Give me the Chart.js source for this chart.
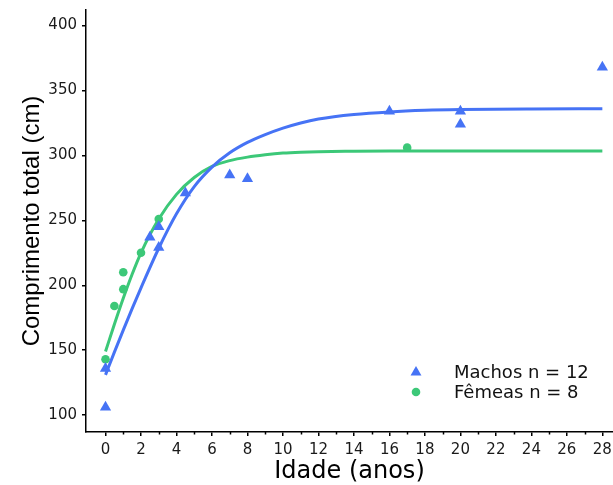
<!DOCTYPE html>
<html>
<head>
<meta charset="utf-8">
<script src="https://cdn.jsdelivr.net/npm/chart.js@4.4.0/dist/chart.umd.min.js"></script>
<style>
  html, body { margin: 0; padding: 0; background: #fff; }
  canvas { display: block; }
</style>
</head>
<body>
<canvas id="growthChart" width="613" height="485"></canvas>
<script>
// observed lengths
const maleAge = [0, 0, 2.5, 3, 3, 4.5, 7, 8, 16, 20, 20, 28];
const maleLength = [106, 136, 237, 245, 229, 271, 285, 282, 334, 334, 324, 368];
const femaleAge = [0, 0.5, 1, 1, 2, 3, 17];
const femaleLength = [143, 184, 197, 210, 225, 251, 306];

// fitted growth curves
const curveAge = [0, 0.5, 1, 1.5, 2, 3, 4, 5, 6, 7, 8, 9, 10, 11, 12, 14, 16, 18, 20, 24, 28];
const maleCurve = [131, 148.5, 165.5, 182, 198, 228.5, 255, 276, 291, 302, 310, 316, 321, 325, 328, 331.5, 333.5, 334.7, 335.3, 335.8, 336];
const femaleCurve = [149, 170, 190, 208.5, 225, 251, 270, 283, 291.5, 296, 298.7, 300.5, 301.8, 302.5, 302.9, 303.2, 303.4, 303.5, 303.5, 303.5, 303.5];

// axes
const xTicks = [0, 2, 4, 6, 8, 10, 12, 14, 16, 18, 20, 22, 24, 26, 28];
const xMinorTicks = [1, 3, 5, 7, 9, 11, 13, 15, 17, 19, 21, 23, 25, 27];
const yTicks = [100, 150, 200, 250, 300, 350, 400];
const legendLabels = ["Machos n = 12", "Fêmeas n = 8"];

const blue = "#4673f5";
const green = "#3cc878";

function toPoints(xs, ys) {
    return xs.map((x, i) => ({ x: x, y: ys[i] }));
}

const extras = {
    id: "extras",
    afterDraw(chart) {
        const ctx = chart.ctx;
        const xs = chart.scales.x;
        const bottom = chart.chartArea.bottom;
        ctx.save();
        ctx.strokeStyle = "#000";
        ctx.lineWidth = 1.5;
        xMinorTicks.forEach(v => {
            const px = Math.round(xs.getPixelForValue(v)) + 0.5;
            ctx.beginPath();
            ctx.moveTo(px, bottom);
            ctx.lineTo(px, bottom + 2.5);
            ctx.stroke();
        });

        // legend
        const marks = [
            { style: "triangle", r: 6.3, color: blue, y: 372.3 },
            { style: "circle", r: 4.3, color: green, y: 392 }
        ];
        ctx.font = "18px 'DejaVu Sans'";
        ctx.textBaseline = "middle";
        ctx.textAlign = "left";
        marks.forEach((m, i) => {
            ctx.fillStyle = m.color;
            Chart.helpers.drawPoint(ctx, { pointStyle: m.style, radius: m.r, borderWidth: 0, rotation: 0 }, 416, m.y);
            ctx.fillStyle = "#111";
            ctx.fillText(legendLabels[i], 454, i === 0 ? 373 : 393);
        });
        ctx.restore();
    }
};

const ctx = document.getElementById("growthChart").getContext("2d");
new Chart(ctx, {
    type: "scatter",
    data: {
        datasets: [
            {
                label: legendLabels[0],
                data: toPoints(maleAge, maleLength),
                pointStyle: "triangle",
                pointRadius: 6.5,
                backgroundColor: blue,
                borderWidth: 0,
                order: 1
            },
            {
                label: legendLabels[1],
                data: toPoints(femaleAge, femaleLength),
                pointStyle: "circle",
                pointRadius: 4.3,
                backgroundColor: green,
                borderWidth: 0,
                order: 2
            },
            {
                label: "ajuste machos",
                data: toPoints(curveAge, maleCurve),
                showLine: true,
                borderColor: blue,
                borderWidth: 3,
                pointRadius: 0,
                cubicInterpolationMode: "monotone",
                order: 3
            },
            {
                label: "ajuste fêmeas",
                data: toPoints(curveAge, femaleCurve),
                showLine: true,
                borderColor: green,
                borderWidth: 3,
                pointRadius: 0,
                cubicInterpolationMode: "monotone",
                order: 4
            }
        ]
    },
    options: {
        responsive: false,
        animation: false,
        layout: { autoPadding: false, padding: { top: 10, left: 0, right: 0, bottom: 0 } },
        plugins: {
            legend: { display: false },
            tooltip: { enabled: false }
        },
        scales: {
            x: {
                type: "linear",
                position: "bottom",
                min: -1.1,
                max: 28.6,
                afterBuildTicks: s => { s.ticks = xTicks.map(v => ({ value: v })); },
                afterFit: s => { s.height = 53; s.paddingLeft = 0; s.paddingRight = 0; },
                ticks: {
                    autoSkip: false,
                    maxRotation: 0,
                    padding: 5,
                    color: "#1a1a1a",
                    font: { family: "DejaVu Sans", size: 15 }
                },
                grid: { drawOnChartArea: false, drawTicks: true, tickLength: 4, color: "#000", lineWidth: 1.5 },
                border: { display: true, color: "#000", width: 1.5 },
                title: {
                    display: true,
                    text: "Idade (anos)",
                    color: "#000",
                    font: { family: "DejaVu Sans", size: 24, lineHeight: 1.1 },
                    padding: { top: 0, bottom: 0 }
                }
            },
            y: {
                type: "linear",
                min: 87,
                max: 412,
                afterBuildTicks: s => { s.ticks = yTicks.map(v => ({ value: v })); },
                afterFit: s => { s.width = 86; s.paddingTop = 0; s.paddingBottom = 0; },
                ticks: {
                    padding: 5,
                    color: "#1a1a1a",
                    font: { family: "DejaVu Sans", size: 15 }
                },
                grid: { drawOnChartArea: false, drawTicks: true, tickLength: 4, color: "#000", lineWidth: 1.5 },
                border: { display: true, color: "#000", width: 1.5 },
                title: {
                    display: true,
                    text: "Comprimento total (cm)",
                    color: "#000",
                    font: { family: "Liberation Sans", size: 24, lineHeight: 1.2 },
                    padding: { top: 18, bottom: 0 }
                }
            }
        }
    },
    plugins: [extras]
});
</script>
</body>
</html>
